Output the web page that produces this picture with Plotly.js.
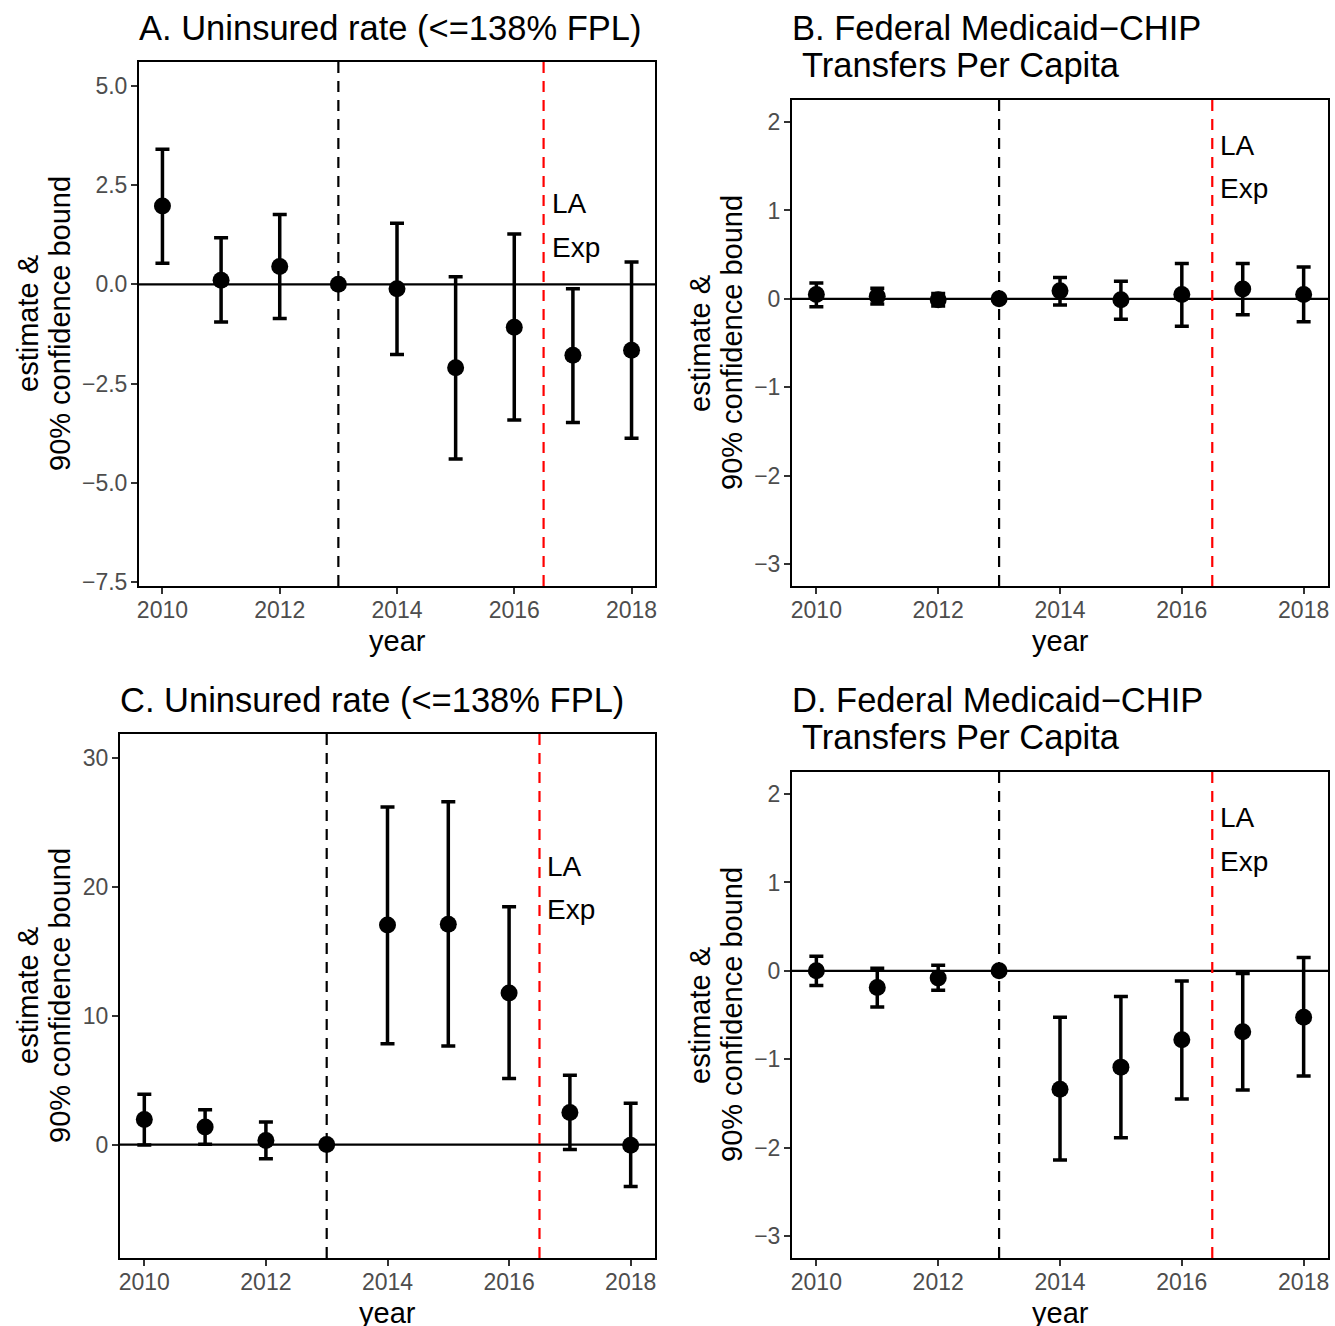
<!DOCTYPE html>
<html>
<head>
<meta charset="utf-8">
<script src="https://cdn.plot.ly/plotly-3.0.1.min.js"></script>
<style>html,body{margin:0;padding:0;background:#fff;}#chart{width:1335px;height:1326px;}</style>
</head>
<body>
<div id="chart"></div>
<script>
// ---- data ----
const years = [2010, 2011, 2012, 2013, 2014, 2015, 2016, 2017, 2018];

const aEst = [1.97, 0.10, 0.45, 0, -0.11, -2.10, -1.08, -1.79, -1.66];
const aHi  = [3.40, 1.17, 1.76, 0, 1.54, 0.19, 1.27, -0.11, 0.56];
const aLo  = [0.53, -0.95, -0.86, 0, -1.77, -4.40, -3.42, -3.48, -3.88];

const bEst = [0.05, 0.03, -0.01, 0, 0.09, -0.01, 0.05, 0.11, 0.05];
const bHi  = [0.18, 0.12, 0.06, 0, 0.24, 0.20, 0.40, 0.40, 0.36];
const bLo  = [-0.09, -0.06, -0.08, 0, -0.07, -0.23, -0.31, -0.18, -0.26];

const cEst = [1.94, 1.37, 0.31, 0, 17.03, 17.10, 11.76, 2.48, -0.05];
const cHi  = [3.90, 2.71, 1.76, 0, 26.18, 26.60, 18.45, 5.37, 3.20];
const cLo  = [-0.03, 0.03, -1.11, 0, 7.83, 7.65, 5.12, -0.39, -3.26];

const dEst = [0.00, -0.19, -0.08, 0, -1.34, -1.09, -0.78, -0.69, -0.525];
const dHi  = [0.165, 0.03, 0.064, 0, -0.525, -0.29, -0.116, -0.03, 0.15];
const dLo  = [-0.165, -0.41, -0.22, 0, -2.14, -1.89, -1.45, -1.35, -1.19];

const panelTitles = [
  ["A. Uninsured rate (<=138% FPL)"],
  ["B. Federal Medicaid\u2212CHIP", "Transfers Per Capita"],
  ["C. Uninsured rate (<=138% FPL)"],
  ["D. Federal Medicaid\u2212CHIP", "Transfers Per Capita"]
];
const yTitleLines = ["estimate &", "90% confidence bound"];
const xTitle = "year";
const eventYears = [2013, 2016.5];
const eventColors = ["black", "#ff0000"];
const noteLines = ["LA", "Exp"];
const noteLAy  = [2.03, 1.73, 21.6, 1.73];
const noteExpY = [0.93, 1.25, 18.2, 1.24];
const xTicks = [2010, 2012, 2014, 2016, 2018];
const yTicksA = [-7.5, -5, -2.5, 0, 2.5, 5];
const yTicksB = [-3, -2, -1, 0, 1, 2];
const yTicksC = [0, 10, 20, 30];
const yTicksD = [-3, -2, -1, 0, 1, 2];

// ---- layout geometry (pixels) ----
const W = 1335, H = 1326;
const fx = p => p / W;
const fy = p => 1 - p / H;
const panels = [
  {est: aEst, hi: aHi, lo: aLo, box: [139, 655, 62, 586], yr: [-7.6, 5.6], ticks: yTicksA, fmt: ".1f"},
  {est: bEst, hi: bHi, lo: bLo, box: [792, 1328, 100, 586], yr: [-3.25, 2.25], ticks: yTicksB, fmt: "d"},
  {est: cEst, hi: cHi, lo: cLo, box: [120, 655, 734, 1258], yr: [-8.8, 31.85], ticks: yTicksC, fmt: "d"},
  {est: dEst, hi: dHi, lo: dLo, box: [792, 1328, 772, 1258], yr: [-3.25, 2.25], ticks: yTicksD, fmt: "d"}
];
const titleY = [[28], [28, 65], [700], [700, 737]];
const titleX2Offset = 10;
const yTitleX = [[28, 60], [700, 732], [28, 60], [700, 732]];
const xTitleY = [641, 641, 1313, 1313];

const FONT = "Liberation Sans, Arial, Helvetica, sans-serif";
const traces = [];
const shapes = [];
const annotations = [];
const layout = {
  width: W, height: H,
  margin: {l: 0, r: 0, t: 0, b: 0},
  paper_bgcolor: "white", plot_bgcolor: "white",
  showlegend: false,
  font: {family: FONT, color: "black"},
  shapes: shapes, annotations: annotations
};

panels.forEach((p, i) => {
  const n = i === 0 ? "" : String(i + 1);
  const xa = "x" + n, ya = "y" + n;
  traces.push({
    type: "scatter", mode: "markers", x: years, y: p.est,
    xaxis: xa, yaxis: ya,
    marker: {size: 17, color: "black"},
    error_y: {
      type: "data", symmetric: false,
      array: p.hi.map((h, j) => h - p.est[j]),
      arrayminus: p.est.map((e, j) => e - p.lo[j]),
      color: "black", thickness: 3.5, width: 7
    },
    hoverinfo: "x+y"
  });
  const axCommon = {
    showline: true, mirror: true, linecolor: "black", linewidth: 2,
    ticks: "outside", ticklen: 6, tickwidth: 2, tickcolor: "#333",
    tickfont: {family: FONT, size: 23, color: "#4d4d4d"},
    showgrid: false, zeroline: false, fixedrange: true
  };
  layout["xaxis" + n] = Object.assign({}, axCommon, {
    domain: [fx(p.box[0]), fx(p.box[1])], range: [2009.6, 2018.4],
    anchor: ya, tickmode: "array", tickvals: xTicks, ticktext: xTicks.map(String),
    ticklabelstandoff: -4
  });
  layout["yaxis" + n] = Object.assign({}, axCommon, {
    domain: [fy(p.box[3]), fy(p.box[2])], range: p.yr,
    anchor: xa, tickmode: "array", tickvals: p.ticks, tickformat: p.fmt,
    ticklabelstandoff: -1
  });
  // zero line
  shapes.push({type: "line", xref: xa + " domain", x0: 0, x1: 1, yref: ya, y0: 0, y1: 0,
    line: {color: "black", width: 2.2}, layer: "below"});
  // event lines
  eventYears.forEach((yr, k) => {
    shapes.push({type: "line", xref: xa, x0: yr, x1: yr, yref: ya + " domain", y0: 0, y1: 1,
      line: {color: eventColors[k], width: 2.2, dash: "11px,8px"}, layer: "below"});
  });
  // notes
  [noteLAy[i], noteExpY[i]].forEach((yv, k) => {
    annotations.push({xref: xa, yref: ya, x: eventYears[1], y: yv, text: noteLines[k],
      showarrow: false, xanchor: "left", yanchor: "middle", xshift: 6,
      font: {family: FONT, size: 28, color: "black"}});
  });
  // panel title
  panelTitles[i].forEach((t, k) => {
    annotations.push({xref: "paper", yref: "paper", x: fx(p.box[0] + (k === 1 ? titleX2Offset : 0) - 2),
      y: fy(titleY[i][k]), text: t, showarrow: false, xanchor: "left", yanchor: "middle",
      font: {family: FONT, size: 34.5, color: "black"}});
  });
  // y title (two centred lines, rotated)
  const cy = (p.box[2] + p.box[3]) / 2;
  yTitleLines.forEach((t, k) => {
    annotations.push({xref: "paper", yref: "paper", x: fx(yTitleX[i][k]), y: fy(cy), text: t,
      showarrow: false, textangle: -90, xanchor: "center", yanchor: "middle",
      font: {family: FONT, size: 29, color: "black"}});
  });
  // x title
  annotations.push({xref: "paper", yref: "paper", x: fx((p.box[0] + p.box[1]) / 2), y: fy(xTitleY[i]),
    text: xTitle, showarrow: false, xanchor: "center", yanchor: "middle",
    font: {family: FONT, size: 29, color: "black"}});
});

Plotly.newPlot("chart", traces, layout, {displayModeBar: false, staticPlot: true});
</script>
</body>
</html>
